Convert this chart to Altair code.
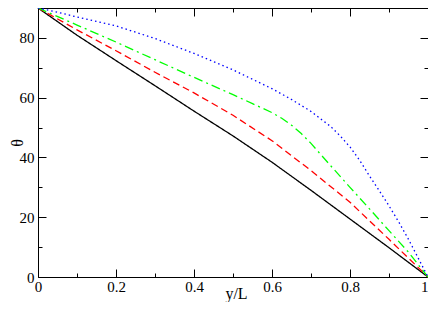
import altair as alt
import pandas as pd

# ---- data ----
black_x = [0, 0.1, 0.2, 0.3, 0.4, 0.5, 0.6, 0.7, 0.8, 0.9, 1.0]
black_t = [90, 80.9, 72.4, 64.0, 55.5, 47.2, 38.4, 29.0, 19.4, 9.8, 0]

red_x = [0, 0.1, 0.2, 0.3, 0.4, 0.5, 0.6, 0.7, 0.8, 0.9, 0.95, 1.0]
red_t = [90, 82.7, 75.7, 68.5, 61.6, 54.1, 45.6, 35.6, 25.0, 12.6, 6.3, 0]

green_x = [0, 0.1, 0.2, 0.3, 0.4, 0.5, 0.55, 0.6, 0.625, 0.65, 0.675, 0.7,
           0.725, 0.75, 0.8, 0.85, 0.9, 0.95, 1.0]
green_t = [90, 84.3, 78.6, 72.7, 66.8, 61.0, 58.0, 55.0, 53.1, 50.8, 48.0, 44.7,
           41.0, 37.3, 30.0, 22.8, 15.5, 8.3, 0]

blue_x = [0, 0.05, 0.1, 0.2, 0.3, 0.4, 0.5, 0.6, 0.65, 0.7, 0.75, 0.775, 0.8,
          0.825, 0.85, 0.875, 0.9, 0.925, 0.95, 0.975, 1.0]
blue_t = [90, 88.6, 87.0, 84.0, 79.8, 74.8, 69.3, 63.0, 59.4, 55.4, 50.4, 47.2, 43.5,
          39.0, 33.8, 28.9, 23.8, 18.4, 12.6, 6.3, 0]

series_names = ["a", "b", "c", "d"]
series_colors = ["#000000", "#ff0000", "#00ff00", "#0000ff"]
series_dash = [[1, 0], [7, 4], [9, 4, 2, 4], [1.5, 3]]

x_major = [0, 0.2, 0.4, 0.6, 0.8, 1.0]
x_minor = [0.1, 0.3, 0.5, 0.7, 0.9]
y_major = [0, 20, 40, 60, 80]
y_minor = [10, 30, 50, 70]

rows = []
for name, xs_, ts in zip(series_names, [black_x, red_x, green_x, blue_x],
                         [black_t, red_t, green_t, blue_t]):
    for i, (a, b) in enumerate(zip(xs_, ts)):
        rows.append({"series": name, "x": a, "theta": b, "i": i})
df = pd.DataFrame(rows)

W, H = 390, 269
PAD_L = 30
FONT = "Liberation Serif"

xs = alt.Scale(domain=[0, 1], nice=False, zero=False)
ys = alt.Scale(domain=[0, 90], nice=False, zero=False)

lines = alt.Chart(df).mark_line(strokeWidth=1.3).encode(
    x=alt.X("x:Q", scale=xs, axis=alt.Axis(
        orient="bottom", values=x_major, format="~g", ticks=False, tickSize=0,
        domain=False, grid=False, labelFont=FONT, labelFontSize=15,
        labelColor="black", labelPadding=2, labelFlush=False,
        labelAlign=alt.ExprRef("datum.value >= 1 ? 'right' : 'center'"),
        title="y/L", titleFont=FONT, titleFontSize=16, titleFontWeight="normal",
        titleColor="black", titleX=W / 2 + 3, titleY=21,
        titleBaseline="alphabetic", titleAlign="center")),
    y=alt.Y("theta:Q", scale=ys, axis=alt.Axis(
        orient="left", values=y_major, ticks=False, tickSize=0, domain=False,
        grid=False, labelFont=FONT, labelFontSize=15, labelColor="black",
        labelPadding=4, title="θ", titleFont=FONT, titleFontSize=16,
        titleFontWeight="normal", titleColor="black", titleX=-(PAD_L - 1),
        titleY=H / 2, titleAngle=270, titleBaseline="top",
        titleAlign="center")),
    color=alt.Color("series:N", scale=alt.Scale(domain=series_names, range=series_colors), legend=None),
    strokeDash=alt.StrokeDash("series:N", scale=alt.Scale(domain=series_names, range=series_dash), legend=None),
    order="i:Q",
)


def tick_layer(xo, yo, xoff, yoff, xv, yv, size):
    return alt.Chart(df).mark_point(opacity=0).encode(
        x=alt.X("x:Q", scale=xs, axis=alt.Axis(
            orient=xo, offset=xoff, values=xv, tickSize=size, tickColor="black",
            tickWidth=1, labels=False, domain=False, grid=False, title="")),
        y=alt.Y("theta:Q", scale=ys, axis=alt.Axis(
            orient=yo, offset=yoff, values=yv, tickSize=size, tickColor="black",
            tickWidth=1, labels=False, domain=False, grid=False, title="")),
    )


t1 = tick_layer("top", "right", -H, -W, x_major, y_major, 8)
t2 = tick_layer("top", "right", -H, -W, x_minor, y_minor, 4)
t3 = tick_layer("bottom", "left", -H, -W, x_major, y_major, 8)
t4 = tick_layer("bottom", "left", -H, -W, x_minor, y_minor, 4)

chart = alt.layer(lines, t1, t2, t3, t4).resolve_axis(
    x="independent", y="independent"
).properties(
    width=W, height=H,
    autosize=alt.AutoSizeParams(type="none"),
    padding={"left": PAD_L, "top": 0, "right": 0, "bottom": 25},
).configure_view(stroke="black", strokeWidth=1)

chart.save("out.html", embed_options={"renderer": "svg", "actions": False})
